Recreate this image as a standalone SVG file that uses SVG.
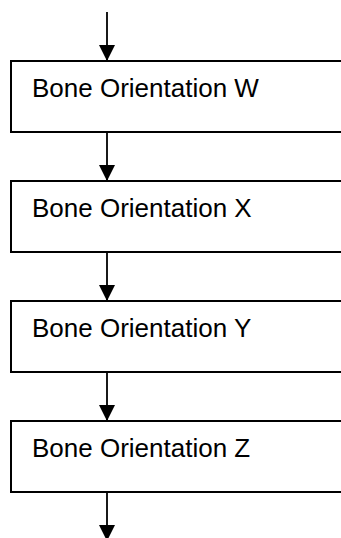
<svg xmlns="http://www.w3.org/2000/svg" width="341" height="538" viewBox="0 0 341 538">
<style>
.box{fill:#fff;stroke:#000;stroke-width:2}
.lbl{font-family:"Liberation Sans",Arial,sans-serif;font-size:26px;fill:#000}
.conn{stroke:#000;stroke-width:1.8;fill:none}
</style>
<defs>
<marker id="ah" markerUnits="userSpaceOnUse" markerWidth="16" markerHeight="18" refX="16" refY="8" orient="auto">
<path d="M0,0 L16,8 L0,16 Z" fill="#000"/>
</marker>
</defs>
<rect width="341" height="538" fill="#fff"/>
<g id="connectors">
<line class="conn" x1="107" y1="12" x2="107" y2="61" marker-end="url(#ah)"/>
<line class="conn" x1="107" y1="132" x2="107" y2="181" marker-end="url(#ah)"/>
<line class="conn" x1="107" y1="252" x2="107" y2="301" marker-end="url(#ah)"/>
<line class="conn" x1="107" y1="372" x2="107" y2="421" marker-end="url(#ah)"/>
<line class="conn" x1="107" y1="492" x2="107" y2="541" marker-end="url(#ah)"/>
</g>
<g id="node-w">
<rect class="box" x="11" y="61" width="340" height="71"/>
<text class="lbl" x="32" y="97">Bone Orientation W</text>
</g>
<g id="node-x">
<rect class="box" x="11" y="181" width="340" height="71"/>
<text class="lbl" x="32" y="217">Bone Orientation X</text>
</g>
<g id="node-y">
<rect class="box" x="11" y="301" width="340" height="71"/>
<text class="lbl" x="32" y="337">Bone Orientation Y</text>
</g>
<g id="node-z">
<rect class="box" x="11" y="421" width="340" height="71"/>
<text class="lbl" x="32" y="457">Bone Orientation Z</text>
</g>
</svg>
